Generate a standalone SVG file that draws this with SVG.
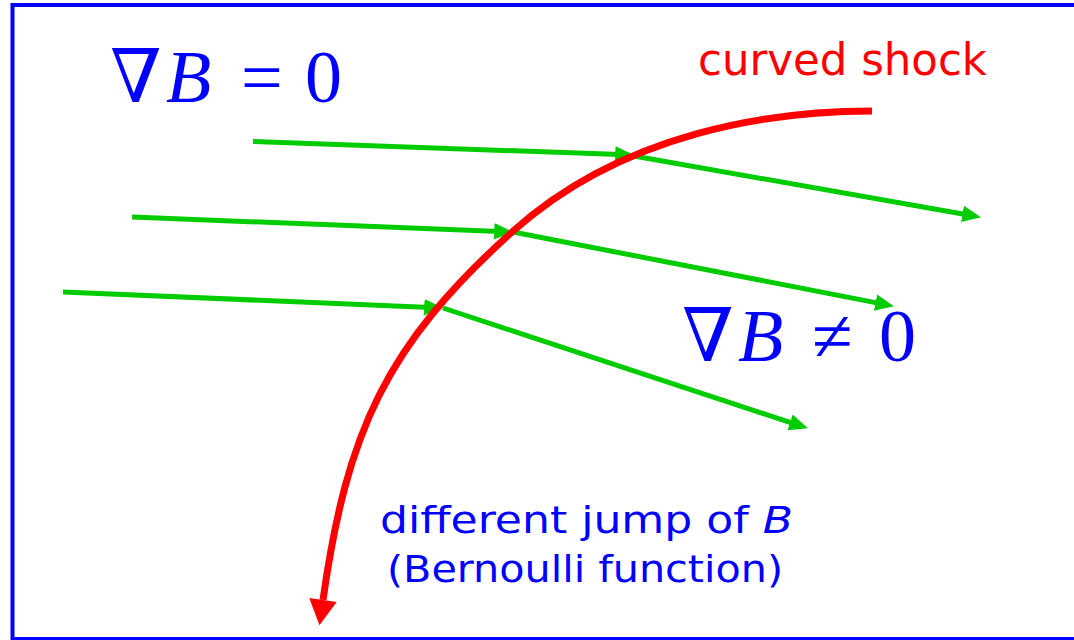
<svg xmlns="http://www.w3.org/2000/svg" width="1074" height="640" viewBox="0 0 1074 640">
  <style>
    .frame { fill: #ffffff; stroke: #0000ff; stroke-width: 4; }
    .flow { fill: none; stroke: #00cc00; stroke-width: 5; stroke-linecap: butt; }
    .shock { fill: none; stroke: #ff0000; stroke-width: 7; stroke-linecap: butt; }
    .math { font-family: "Liberation Serif", "DejaVu Serif", serif; font-size: 74px; fill: #0000ff; }
    .sym { font-family: "Liberation Serif", "DejaVu Serif", serif; }
    .it { font-style: italic; }
    .hand { font-family: "Comic Sans MS", "DejaVu Sans", sans-serif; }
    .lblred { fill: #ff0000; font-size: 44px; }
    .lblblue { fill: #0000ff; font-size: 38px; }
  </style>
  <defs>
    <marker id="ga" markerUnits="userSpaceOnUse" markerWidth="20" markerHeight="20" viewBox="0 -8 17 16" refX="10" refY="0" orient="auto">
      <path d="M0,-7 L16,0 L0,7 Z" fill="#00cc00"/>
    </marker>
    <marker id="ra" markerUnits="userSpaceOnUse" markerWidth="30" markerHeight="30" viewBox="0 -13 23 26" refX="0" refY="0" orient="auto">
      <path d="M0,-12 L22,0 L0,12 Z" fill="#ff0000"/>
    </marker>
  </defs>

  <rect class="frame" x="12.5" y="5" width="1070" height="634"/>

  <g id="connectors">
    <line class="flow" x1="253" y1="141.5" x2="627" y2="154.8" marker-end="url(#ga)"/>
    <line class="flow" x1="634" y1="156" x2="974.1" y2="216" marker-end="url(#ga)"/>
    <line class="flow" x1="132" y1="217" x2="506" y2="231.8" marker-end="url(#ga)"/>
    <line class="flow" x1="513" y1="232" x2="887.1" y2="304.9" marker-end="url(#ga)"/>
    <line class="flow" x1="63" y1="292" x2="436" y2="307.7" marker-end="url(#ga)"/>
    <line class="flow" x1="443" y1="308" x2="801.3" y2="426.1" marker-end="url(#ga)"/>
  </g>

  <g id="shock">
    <path class="shock" marker-end="url(#ra)" d="M872,111 C772,111 623.5,131.6 512,232 C385.7,345.7 346.8,431.7 323,600"/>
  </g>

  <g id="label-grad-zero">
    <text class="math" y="102"><tspan class="sym" x="110">∇</tspan><tspan class="it" x="166">B</tspan><tspan x="241">=</tspan><tspan x="305">0</tspan></text>
  </g>

  <g id="label-grad-nonzero">
    <text class="math" y="361"><tspan class="sym" x="682">∇</tspan><tspan class="it" x="738">B</tspan><tspan x="812">≠</tspan><tspan x="879">0</tspan></text>
  </g>

  <g id="label-curved-shock">
    <text class="hand lblred" x="698" y="75" textLength="289" lengthAdjust="spacingAndGlyphs">curved shock</text>
  </g>

  <g id="label-jump">
    <text class="hand lblblue" x="380" y="533" textLength="413" lengthAdjust="spacingAndGlyphs">different jump of <tspan class="it">B</tspan></text>
    <text class="hand lblblue" x="387" y="582" textLength="396" lengthAdjust="spacingAndGlyphs">(Bernoulli function)</text>
  </g>
</svg>
